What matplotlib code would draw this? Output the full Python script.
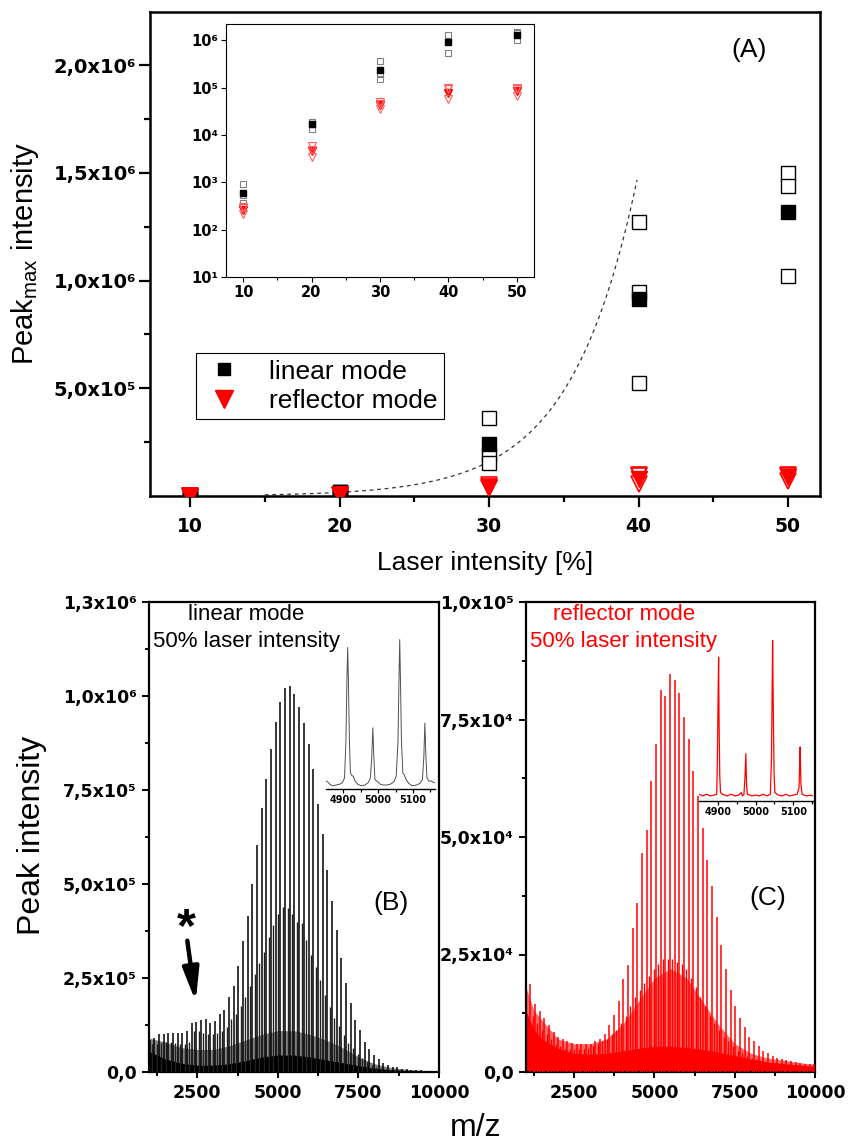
import numpy as np
import matplotlib
matplotlib.use('Agg')
import matplotlib.pyplot as plt
from matplotlib.lines import Line2D
from matplotlib.font_manager import FontProperties
from matplotlib.ticker import FixedLocator, NullLocator

plt.rcParams['font.family'] = ['Liberation Sans', 'DejaVu Sans']
plt.rcParams['mathtext.fontset'] = 'custom'
plt.rcParams['mathtext.rm'] = 'Liberation Sans'
plt.rcParams['mathtext.it'] = 'Liberation Sans'

# ---------------- data: panel A ----------------
laser = [10, 20, 30, 40, 50]
lin_mean = [600, 1.68e4, 2.40e5, 9.12e5, 1.32e6]
lin_rep1 = [920, 1.85e4, 3.62e5, 1.27e6, 1.50e6]
lin_rep2 = [540, 1.70e4, 1.90e5, 9.47e5, 1.44e6]
lin_rep3 = [370, 1.35e4, 1.53e5, 5.25e5, 1.02e6]
ref_mean = [260, 4.6e3, 4.2e4, 7.8e4, 8.6e4]
ref_rep1 = [300, 5.8e3, 5.0e4, 9.8e4, 9.8e4]
ref_rep2 = [280, 4.8e3, 4.4e4, 9.2e4, 9.4e4]
ref_rep3 = [210, 3.5e3, 3.6e4, 5.6e4, 6.8e4]
fit_a, fit_x0, fit_k = 1.7e4, 20.0, 0.224
fit_range = (15.0, 39.9)

a_yticks = [5e5, 1e6, 1.5e6, 2e6]
a_ylabels = ['5,0x10⁵', '1,0x10⁶', '1,5x10⁶', '2,0x10⁶']
a_xticks = [10, 20, 30, 40, 50]
ins_yticks = [1e1, 1e2, 1e3, 1e4, 1e5, 1e6]
ins_ylabels = ['10¹', '10²', '10³', '10⁴', '10⁵', '10⁶']

# ---------------- data: panel B (linear mode spectrum) ----------------
b_pri_mz = [1019, 1164, 1309, 1454, 1599, 1744, 1889, 2034, 2179, 2324, 2469, 2614, 2759, 2904,
            3049, 3194, 3339, 3484, 3629, 3774, 3919, 4064, 4209, 4355, 4501, 4645, 4791, 4936,
            5080, 5226, 5372, 5515, 5661, 5806, 5950, 6096, 6242, 6386, 6532, 6677, 6822, 6967,
            7112, 7257, 7402, 7547, 7692, 7837, 7982, 8127, 8272, 8417, 8562, 8707, 8852, 8997,
            9142, 9287, 9432, 9577, 9722, 9867]
b_pri_h = [8.5e4, 9.0e4, 1.0e5, 1.01e5, 1.03e5, 1.05e5, 1.05e5, 1.05e5, 1.09e5, 1.31e5, 1.34e5,
           1.38e5, 1.41e5, 1.31e5, 1.36e5, 1.54e5, 1.65e5, 2.0e5, 2.29e5, 2.82e5, 3.49e5, 4.15e5,
           5.0e5, 6.04e5, 7.03e5, 7.79e5, 8.59e5, 9.32e5, 9.84e5, 1.021e6, 1.027e6, 1.005e6,
           9.72e5, 9.28e5, 8.72e5, 8.06e5, 7.13e5, 6.33e5, 5.37e5,
           4.56e5, 3.78e5, 3.04e5, 2.36e5, 1.84e5, 1.38e5, 1.12e5, 8.1e4, 6.0e4, 4.5e4, 3.4e4,
           2.5e4, 1.9e4, 1.4e4, 1.2e4, 9e3, 7e3, 6e3, 5e3, 4e3, 3.5e3, 3e3, 2.5e3]
b_sec_mz = [1091, 1236, 1381, 1526, 1671, 1816, 1961, 2106, 2251, 2396, 2541, 2686, 2831, 2976,
            3121, 3266, 3411, 3556, 3701, 3846, 3991, 4136, 4281, 4427, 4573, 4717, 4863, 5008,
            5152, 5299, 5444, 5588, 5733, 5878, 6022, 6169, 6314, 6459, 6604, 6749, 6894, 7039,
            7184, 7329, 7474, 7619, 7764, 7909, 8054, 8199, 8344, 8489, 8634, 8779, 8924, 9069,
            9214, 9359, 9504, 9649, 9794, 9939]
b_sec_h = [7.5e4, 7.5e4, 7.8e4, 8.0e4, 8.0e4, 7.8e4, 7.5e4, 7.5e4, 8.0e4, 1.1e5, 1.1e5, 1.05e5,
           1.0e5, 1.0e5, 1.05e5, 1.1e5, 1.2e5, 1.4e5, 1.55e5, 1.75e5, 2.0e5, 2.3e5,
           2.6e5, 2.9e5, 3.2e5, 3.6e5, 3.9e5, 4.2e5, 4.4e5, 4.35e5, 4.2e5, 4.0e5, 3.95e5, 3.5e5,
           3.1e5, 2.8e5, 2.45e5, 2.05e5, 1.74e5,
           1.43e5, 1.22e5, 9.8e4, 7.8e4, 6.4e4, 4.8e4, 3.7e4, 2.7e4, 1.9e4, 1.4e4, 1.0e4, 8e3,
           6e3, 5e3, 4e3, 3.5e3, 3e3, 2.6e3, 2.3e3, 2e3, 1.8e3, 1.6e3, 1.5e3]
band_mz = [1000, 1250, 1500, 2000, 2500, 3000, 3500, 4000, 4500, 5000, 5500, 6000, 6500, 7000,
           7500, 8000, 8500, 9000, 9500, 10000]
b_band = [5.5e4, 4.5e4, 3.5e4, 2.3e4, 1.8e4, 1.8e4, 2.2e4, 3.0e4, 4.0e4, 4.5e4, 4.5e4, 4.0e4,
          3.2e4, 2.5e4, 1.7e4, 1.0e4, 6e3, 4e3, 3e3, 2e3]
b_grass = [9e4, 8.5e4, 8e4, 6.5e4, 6e4, 6e4, 7e4, 8.5e4, 1.0e5, 1.1e5, 1.1e5, 1.0e5, 8.5e4,
           6.5e4, 4e4, 2.2e4, 1.2e4, 7e3, 4e3, 3e3]
b_yticks = [0, 2.5e5, 5e5, 7.5e5, 1e6, 1.25e6]
b_ylabels = ['0,0', '2,5x10⁵', '5,0x10⁵', '7,5x10⁵', '1,0x10⁶', '1,3x10⁶']

# zoomed inset of B (relative intensity)
bi_mz = [4851, 4856, 4862, 4870, 4880, 4890, 4898, 4904, 4908, 4911, 4913, 4915, 4918, 4921,
         4925, 4929, 4934, 4942, 4952, 4962, 4972, 4978, 4982, 4985, 4988, 4991, 4996, 5000,
         5006, 5015, 5025, 5035, 5045, 5052, 5057, 5060, 5062, 5064, 5067, 5071, 5075, 5080,
         5088, 5098, 5110, 5120, 5127, 5131, 5134, 5137, 5140, 5145, 5152, 5160, 5163]
bi_y = [0.05, 0.045, 0.03, 0.02, 0.025, 0.03, 0.04, 0.07, 0.3, 0.7, 0.89, 0.7, 0.3, 0.1,
        0.085, 0.08, 0.05, 0.03, 0.02, 0.025, 0.04, 0.07, 0.2, 0.385, 0.2, 0.06, 0.05, 0.045,
        0.03, 0.025, 0.025, 0.03, 0.045, 0.08, 0.3, 0.7, 0.94, 0.7, 0.3, 0.1, 0.09, 0.06,
        0.035, 0.02, 0.025, 0.035, 0.06, 0.2, 0.415, 0.2, 0.07, 0.05, 0.05, 0.04, 0.04]

# ---------------- data: panel C (reflector mode spectrum) ----------------
c_pri_mz = [1132, 1277, 1422, 1567, 1712, 1857, 2002, 2147, 2292, 2437, 2582, 2727, 2872, 3017,
            3162, 3307, 3452, 3597, 3742, 3887, 4032, 4177, 4322, 4467,
            4612, 4757, 4903, 5048, 5193, 5339, 5484, 5629, 5775, 5920, 6065, 6211, 6356, 6501,
            6647, 6792,
            6937, 7082, 7227, 7372, 7517, 7662, 7807, 7952, 8097, 8242, 8387, 8532, 8677, 8822,
            8967, 9112, 9257, 9402, 9547, 9692, 9837, 9982]
c_pri_h = [1.87e4, 1.45e4, 1.3e4, 1.15e4, 1.0e4, 8.5e3, 7.5e3, 7e3, 6.5e3, 6.2e3, 6e3, 6e3, 6e3,
           6e3, 6.5e3, 7e3, 8.1e3, 1.0e4, 1.21e4, 1.52e4, 1.98e4, 2.28e4, 3.06e4, 3.6e4,
           4.65e4, 5.15e4, 6.19e4, 6.97e4, 8.13e4, 7.99e4, 8.47e4, 8.34e4, 8.07e4, 7.56e4,
           7.09e4, 6.41e4, 5.87e4, 5.19e4, 4.51e4, 3.96e4,
           3.3e4, 2.7e4, 2.2e4, 1.75e4, 1.4e4, 1.15e4, 9.5e3, 7.5e3, 6.5e3, 5.5e3, 4.5e3, 4e3,
           3.5e3, 3e3, 2.8e3, 2.5e3, 2.3e3, 2.1e3, 2e3, 1.8e3, 1.7e3, 1.6e3]
c_sec_mz = [1204, 1349, 1494, 1639, 1784, 1929, 2074, 2219, 2364, 2509, 2654, 2799, 2944, 3089,
            3234, 3379, 3524, 3669, 3814, 3959, 4104, 4249, 4394, 4539,
            4684, 4829, 4975, 5120, 5265, 5411, 5556, 5701, 5847, 5992, 6137, 6283, 6428, 6573,
            6719, 6864,
            7009, 7154, 7299, 7444, 7589, 7734, 7879, 8024, 8169, 8314, 8459, 8604, 8749, 8894,
            9039, 9184, 9329, 9474, 9619, 9764, 9909]
c_sec_h = [1.2e4, 1.05e4, 9e3, 8e3, 7e3, 6e3, 5.5e3, 5e3, 5e3, 5e3, 5e3, 5e3, 5.2e3, 5.5e3,
           6e3, 6.5e3, 7e3, 8e3, 9e3, 1.05e4, 1.2e4, 1.4e4, 1.6e4, 1.75e4,
           1.9e4, 2.05e4, 2.2e4, 2.3e4, 2.4e4, 2.4e4, 2.4e4, 2.35e4, 2.3e4, 2.2e4, 2.0e4, 1.8e4,
           1.6e4, 1.4e4, 1.2e4, 1.05e4,
           9e3, 7.5e3, 6.5e3, 5.5e3, 4.5e3, 4e3, 3.5e3, 3e3, 2.7e3, 2.4e3, 2.2e3, 2e3, 1.9e3,
           1.8e3, 1.7e3, 1.6e3, 1.5e3, 1.4e3, 1.3e3, 1.2e3, 1.1e3]
c_band = [1.3e4, 9e3, 7e3, 5e3, 4e3, 3.8e3, 4e3, 4.5e3, 5e3, 5.5e3, 5.5e3, 5.2e3, 4.8e3, 4.2e3,
          3.5e3, 2.8e3, 2.2e3, 1.8e3, 1.5e3, 1.2e3]
c_grass = [1.8e4, 1.3e4, 1.1e4, 7e3, 6e3, 6e3, 7e3, 1.0e4, 1.5e4, 2.0e4, 2.2e4, 2.0e4, 1.5e4,
           1.0e4, 6e3, 4e3, 3e3, 2.5e3, 2e3, 1.6e3]
c_yticks = [0, 2.5e4, 5e4, 7.5e4, 1e5]
c_ylabels = ['0,0', '2,5x10⁴', '5,0x10⁴', '7,5x10⁴', '1,0x10⁵']

ci_mz = [4850, 4860, 4870, 4880, 4890, 4897, 4899, 4901, 4902, 4903, 4905, 4907, 4912, 4925,
         4935, 4945, 4955, 4962, 4965, 4969, 4972, 4974, 4976, 4978, 4990, 5000, 5010, 5020,
         5030, 5039, 5042, 5044, 5045, 5047, 5049, 5051, 5060, 5070, 5080, 5090, 5100, 5110,
         5115, 5117, 5118, 5120, 5123, 5135, 5145, 5152]
ci_y = [0.04, 0.03, 0.04, 0.03, 0.035, 0.04, 0.3, 0.7, 0.85, 0.5, 0.15, 0.05, 0.04, 0.03,
        0.04, 0.03, 0.035, 0.05, 0.03, 0.04, 0.15, 0.28, 0.1, 0.04, 0.03, 0.035, 0.03, 0.04,
        0.03, 0.04, 0.25, 0.7, 0.95, 0.5, 0.15, 0.05, 0.035, 0.03, 0.04, 0.03, 0.035, 0.04,
        0.08, 0.25, 0.32, 0.1, 0.04, 0.03, 0.035, 0.03]
spec_xticks = [2500, 5000, 7500, 10000]
spec_xminor = [1250, 3750, 6250, 8750]
ins_xticks = [4900, 5000, 5100]

# ---------------- figure ----------------
W, H = 848, 1148
fig = plt.figure(figsize=(W / 100, H / 100), dpi=100)


def box(x0, y0, x1, y1):
    return [x0 / W, 1 - y1 / H, (x1 - x0) / W, (y1 - y0) / H]


def tickfont(size):
    return FontProperties(family='DejaVu Sans', weight='bold', size=size)


def frame(ax, lw):
    for s in ax.spines.values():
        s.set_linewidth(lw)


# ---- Panel A ----
axA = fig.add_axes(box(150, 12, 820, 496))
frame(axA, 1.8)
axA.set_xlim(7.32, 52.14)
axA.set_ylim(0, 2.246e6)
xf = np.linspace(fit_range[0], fit_range[1], 200)
axA.plot(xf, fit_a * np.exp(fit_k * (xf - fit_x0)), ls=(0, (3, 3)), color='#333333', lw=0.9, zorder=2)
for rep in (lin_rep1, lin_rep2, lin_rep3):
    axA.plot(laser, rep, ls='none', marker='s', ms=9.5, mfc='white', mec='black', mew=1.0, zorder=3)
axA.plot(laser, lin_mean, ls='none', marker='s', ms=9.5, mfc='black', mec='black', zorder=4)
axA.plot(laser, ref_mean, ls='none', marker='v', ms=12, mfc='red', mec='red', zorder=5)
for rep in (ref_rep1, ref_rep2, ref_rep3):
    axA.plot(laser, rep, ls='none', marker='v', ms=12, mfc='none', mec='red', mew=1.2, zorder=6)
axA.set_xticks(a_xticks)
axA.set_xticklabels([str(v) for v in a_xticks], fontproperties=tickfont(13.5))
axA.xaxis.set_minor_locator(FixedLocator([15, 25, 35, 45]))
axA.set_yticks(a_yticks)
axA.set_yticklabels(a_ylabels, fontproperties=tickfont(14))
axA.yaxis.set_minor_locator(FixedLocator([2.5e5, 7.5e5, 1.25e6, 1.75e6]))
axA.tick_params(axis='x', which='major', direction='out', length=8, width=1.6, pad=7)
axA.tick_params(axis='x', which='minor', direction='out', length=4, width=1.6)
axA.tick_params(axis='y', which='major', direction='out', length=8, width=1.6, pad=2)
axA.tick_params(axis='y', which='minor', direction='out', length=4, width=1.6)

handles = [Line2D([], [], ls='none', marker='s', ms=9, mfc='black', mec='black'),
           Line2D([], [], ls='none', marker='v', ms=13, mfc='red', mec='red')]
leg = axA.legend(handles, ['linear mode', 'reflector mode'], loc='upper left',
                 bbox_to_anchor=((196 - 150) / 670, (496 - 353) / 484), fontsize=19,
                 frameon=True, fancybox=False, edgecolor='black', framealpha=1,
                 borderpad=0.25, handletextpad=0.9, labelspacing=0.2, handlelength=1.6,
                 borderaxespad=0)
leg.get_frame().set_linewidth(0.8)

fig.text(749 / W, 1 - 50 / H, '(A)', ha='center', va='center', fontsize=19)
fig.text(25 / W, 1 - 254 / H, r'Peak$_{\mathrm{max}}$ intensity', rotation=90,
         ha='center', va='center', fontsize=21)
fig.text(485 / W, 1 - 563 / H, 'Laser intensity [%]', ha='center', va='center', fontsize=19)

# ---- Inset of A (log scale) ----
axI = fig.add_axes(box(226, 24, 534, 277))
frame(axI, 0.8)
axI.set_yscale('log')
axI.set_xlim(7.5, 52.5)
axI.set_ylim(10, 2.2e6)
for rep in (lin_rep1, lin_rep2, lin_rep3):
    axI.plot(laser, rep, ls='none', marker='s', ms=4.3, mfc='none', mec='#808080', mew=0.8)
axI.plot(laser, lin_mean, ls='none', marker='s', ms=4.5, mfc='black', mec='black')
axI.plot(laser, ref_mean, ls='none', marker='v', ms=5.5, mfc='red', mec='red')
for rep in (ref_rep1, ref_rep2, ref_rep3):
    axI.plot(laser, rep, ls='none', marker='v', ms=5.5, mfc='none', mec='#ff6060', mew=0.8)
axI.set_xticks(a_xticks)
axI.set_xticklabels([str(v) for v in a_xticks], fontproperties=tickfont(10.5))
axI.xaxis.set_minor_locator(FixedLocator([15, 25, 35, 45]))
axI.set_yticks(ins_yticks)
axI.set_yticklabels(ins_ylabels, fontproperties=tickfont(10.5))
axI.yaxis.set_minor_locator(NullLocator())
axI.tick_params(which='major', direction='out', length=3.5, width=0.8, pad=2)
axI.tick_params(which='minor', direction='out', length=2, width=0.8)


def spectrum_axes(rect, ymax, yticks, ylabels):
    ax = fig.add_axes(rect)
    frame(ax, 1.6)
    ax.set_xlim(1000, 10000)
    ax.set_ylim(0, ymax)
    ax.set_xticks(spec_xticks)
    ax.set_xticklabels([str(v) for v in spec_xticks], fontproperties=tickfont(12.5))
    ax.xaxis.set_minor_locator(FixedLocator(spec_xminor))
    ax.set_yticks(yticks)
    ax.set_yticklabels(ylabels, fontproperties=tickfont(12.5))
    ax.yaxis.set_minor_locator(FixedLocator([(a + b) / 2 for a, b in zip(yticks[:-1], yticks[1:])]))
    ax.tick_params(axis='y', which='major', direction='out', length=5, width=1.4, pad=4)
    ax.tick_params(axis='y', which='minor', direction='out', length=3, width=1.4)
    ax.tick_params(axis='x', which='major', direction='out', length=4, width=1.4, pad=5)
    ax.tick_params(axis='x', which='minor', direction='out', length=3, width=1.4)
    return ax


def inset_axes(rect, xlim):
    ax = fig.add_axes(rect)
    ax.patch.set_alpha(0)
    for k in ('left', 'right', 'top'):
        ax.spines[k].set_visible(False)
    ax.spines['bottom'].set_linewidth(1.0)
    ax.set_xlim(*xlim)
    ax.set_ylim(0, 1)
    ax.set_yticks([])
    ax.set_xticks(ins_xticks)
    ax.set_xticklabels([str(v) for v in ins_xticks], fontproperties=tickfont(7))
    ax.xaxis.set_minor_locator(FixedLocator([4950, 5050, 5150]))
    ax.tick_params(which='major', direction='out', length=3, width=0.9, pad=1.5)
    ax.tick_params(which='minor', direction='out', length=2, width=0.9)
    return ax


# ---- Panel B ----
axB = spectrum_axes(box(149, 602, 439, 1072), 1.25e6, b_yticks, b_ylabels)
axB.fill_between(band_mz, 0, b_grass, color='#404040', alpha=0.65, lw=0, zorder=1)
axB.fill_between(band_mz, 0, b_band, color='black', lw=0, zorder=2)
axB.vlines(b_sec_mz, 0, b_sec_h, color='#202020', lw=1.0, zorder=3)
axB.vlines(b_pri_mz, 0, b_pri_h, color='black', lw=1.1, zorder=4)
axBi = inset_axes(box(326, 630, 435, 789), (4851, 5163))
axBi.plot(bi_mz, bi_y, color='#505050', lw=0.7)

fig.text(246 / W, 1 - 614 / H, 'linear mode', ha='center', va='center', fontsize=16)
fig.text(246 / W, 1 - 642 / H, '50% laser intensity', ha='center', va='center', fontsize=16)
fig.text(391 / W, 1 - 903 / H, '(B)', ha='center', va='center', fontsize=19)
fig.text(186.5 / W, 1 - 941 / H, '*', ha='center', va='baseline', fontsize=35, fontweight='bold')
axB.annotate('', xy=(195.7, H - 1001.7), xycoords='figure pixels',
             xytext=(187.3, H - 940.7), textcoords='figure pixels',
             arrowprops=dict(arrowstyle='-|>,head_length=0.9,head_width=0.22', color='black',
                             lw=3.2, shrinkA=0, shrinkB=0, mutation_scale=22))

# ---- Panel C ----
axC = spectrum_axes(box(526, 602, 815, 1072), 1e5, c_yticks, c_ylabels)
axC.fill_between(band_mz, 0, c_grass, color='red', alpha=0.6, lw=0, zorder=1)
axC.fill_between(band_mz, 0, c_band, color='red', lw=0, zorder=2)
axC.vlines(c_sec_mz, 0, c_sec_h, color='red', lw=1.0, zorder=3)
axC.vlines(c_pri_mz, 0, c_pri_h, color='red', lw=1.1, zorder=4)
axCi = inset_axes(box(699, 632, 813, 801), (4850, 5152))
axCi.plot(ci_mz, ci_y, color='red', lw=0.9)

fig.text(624 / W, 1 - 614 / H, 'reflector mode', ha='center', va='center', fontsize=16, color='red')
fig.text(624 / W, 1 - 642 / H, '50% laser intensity', ha='center', va='center', fontsize=16, color='red')
fig.text(768 / W, 1 - 898 / H, '(C)', ha='center', va='center', fontsize=19)

fig.text(32 / W, 1 - 835 / H, 'Peak intensity', rotation=90, ha='center', va='center', fontsize=23)
fig.text(476 / W, 1 - 1128 / H, 'm/z', ha='center', va='center', fontsize=23)

fig.savefig('out.png', dpi=100)
